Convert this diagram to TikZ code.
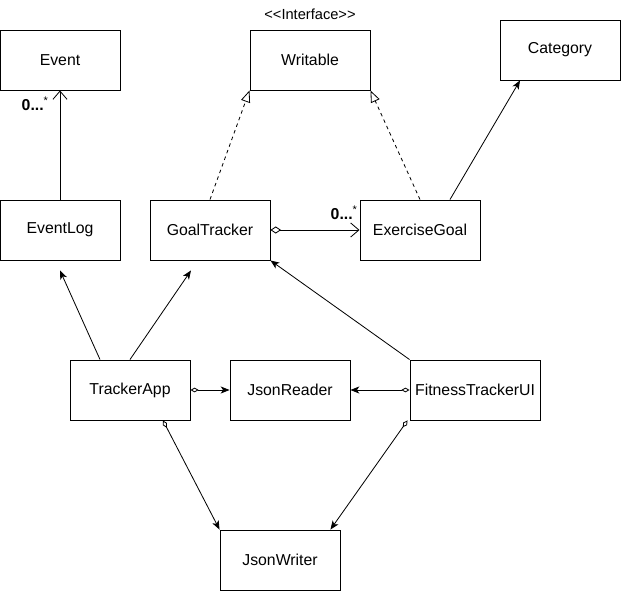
\documentclass[tikz,border=0pt]{standalone}
\usepackage{fontspec}
\setmainfont{Liberation Sans}
\usetikzlibrary{arrows.meta,positioning,calc}
\tikzset{
  umlclass/.style={draw, line width=0.8pt, minimum width=3.6cm, minimum height=1.8cm,
    inner sep=0pt, font=\fontsize{13.5}{16}\selectfont},
  assoc/.style={line width=0.7pt, -{Stealth[length=7.5pt,width=6pt,inset=2pt]}},
  openassoc/.style={line width=0.7pt, -{Straight Barb[length=7pt,width=12pt]}},
  realize/.style={line width=0.7pt, dashed, -{Triangle[open,length=10pt,width=8pt]}},
  aggr/.style={line width=0.7pt, {Diamond[open,length=7pt,width=4pt]}-{Stealth[length=7.5pt,width=6pt,inset=2pt]}},
  aggropen/.style={line width=0.7pt, {Diamond[open,length=9pt,width=6pt]}-{Straight Barb[length=7pt,width=12pt]}},
  mult/.style={font=\fontsize{13.5}{16}\selectfont, inner sep=1pt}
}
\begin{document}
\begin{tikzpicture}[x=0.03cm, y=-0.03cm]
        \useasboundingbox (0,0) rectangle (621,592);

        % classes
        \node[umlclass] (event) at (60,60) {Event};
        \node[umlclass] (writable) at (310,60) {Writable};
        \node[umlclass] (category) at (560,50) {Category};
        \node[umlclass] (eventlog) at (60,230) {EventLog};
        \node[umlclass] (goaltracker) at (210,230) {GoalTracker};
        \node[umlclass] (exercisegoal) at (420,230) {ExerciseGoal};
        \node[umlclass] (trackerapp) at (130,390) {TrackerApp};
        \node[umlclass] (jsonreader) at (290,390) {JsonReader};
        \node[umlclass, minimum width=3.9cm] (fitnessui) at (475,390) {FitnessTrackerUI};
        \node[umlclass] (jsonwriter) at (280,560) {JsonWriter};

        \node[font=\fontsize{12.5}{15}\selectfont] (iface) at (310,14) {<{}<Interface>{}>};

        % top part
        \draw[openassoc] (eventlog.north) -- (event.south);
        \node[mult, anchor=east] (multevent) at (50,104) {\textbf{0...}\textsuperscript{*}};
        \draw[realize] (goaltracker.north) -- (writable.south west);
        \draw[realize] (exercisegoal.north) -- (writable.south east);
        \draw[assoc] ($(exercisegoal.north)+(30,0)$) -- ($(category.south)+(-40,0)$);
        \draw[aggropen] (goaltracker.east) -- (exercisegoal.west);
        \node[mult, anchor=east] (multgoal) at (359,213) {\textbf{0...}\textsuperscript{*}};

        % middle part
        \coordinate (eventlogtip) at ($(eventlog.south)+(0,10)$);
        \coordinate (goaltrackertip) at ($(goaltracker.south)+(-19,10)$);
        \draw[assoc] ($(trackerapp.north)+(-30,0)$) -- (eventlogtip);
        \draw[assoc] (trackerapp.north) -- (goaltrackertip);
        \draw[assoc] (fitnessui.north west) -- (goaltracker.south east);
        \draw[aggr] (trackerapp.east) -- (jsonreader.west);
        \draw[aggr] (fitnessui.west) -- (jsonreader.east);

        % bottom part
        \draw[aggr] ($(trackerapp.south)+(33,0)$) -- (jsonwriter.north west);
        \draw[aggr] ($(fitnessui.south west)+(-2,0)$) -- ($(jsonwriter.north east)+(-10,0)$);
    \end{tikzpicture}
\end{document}
